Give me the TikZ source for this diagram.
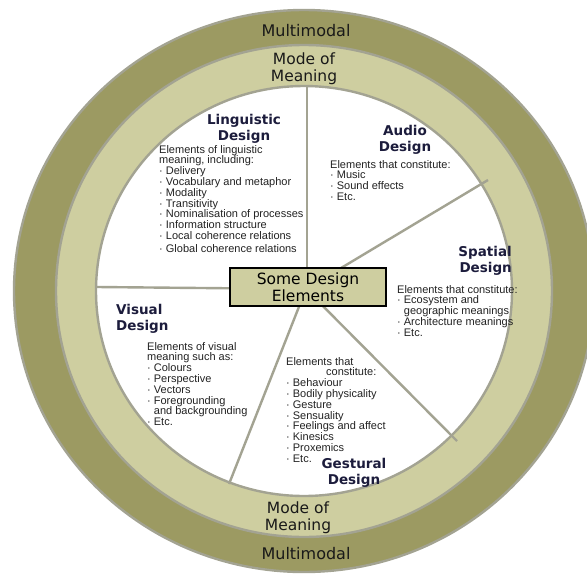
\documentclass[tikz,border=0pt]{standalone}
\usepackage{fontspec}
\setmainfont{Liberation Sans}
\newfontfamily\dvfont{DejaVu Sans}
\definecolor{darkolive}{HTML}{9C9A62}
\definecolor{lightolive}{HTML}{CECEA0}
\definecolor{ringgray}{HTML}{A3A392}
\definecolor{titlenavy}{HTML}{1C1C3C}
\definecolor{bodytext}{HTML}{222222}
\tikzset{
  ringline/.style={draw=ringgray, line width=2.4pt},
  spoke/.style={draw=ringgray, line width=2.4pt},
  ringlabel/.style={font=\dvfont\fontsize{15.5}{17}\selectfont, align=center, inner sep=0pt, text=black!90},
  multilabel/.style={font=\dvfont\fontsize{16}{18}\selectfont, inner sep=0pt, text=black!90},
  designtitle/.style={font=\dvfont\bfseries\fontsize{13.5}{16.5}\selectfont, text=titlenavy, inner sep=0pt},
  bodylist/.style={font=\fontsize{11}{10.8}\selectfont, text=bodytext, align=left, inner sep=0pt, anchor=north west},
  centrebox/.style={draw=black, line width=2.5pt, fill=lightolive, minimum width=156pt, minimum height=38pt, inner sep=0pt, align=center, font=\dvfont\fontsize{15.5}{17}\selectfont}
}
\newcommand{\bul}{\textperiodcentered\ }
\newcommand{\nobul}{\phantom{\textperiodcentered\ }}
\begin{document}
\begin{tikzpicture}[x=1pt,y=-1pt]
\useasboundingbox (0,0) rectangle (587,574);
\begin{scope}
\clip (0,0) rectangle (587,574);
\fill[darkolive] (304,291) ellipse [x radius=290, y radius=281];
\draw[ringline] (304,291) ellipse [x radius=290, y radius=281];
\fill[lightolive] (304,291) ellipse [x radius=248, y radius=246];
\draw[ringline] (304,291) ellipse [x radius=248, y radius=246];
\fill[white] (304,291) ellipse [x radius=208, y radius=205];
\draw[ringline] (304,291) ellipse [x radius=208, y radius=205];
\end{scope}

% spokes
\coordinate (c) at (306,289);
\coordinate (ctop) at (307,289);
\coordinate (etop) at (307,87);
\coordinate (eleft) at (97,287);
\coordinate (eur) at (488,180);
\coordinate (elr) at (457,441);
\coordinate (ell) at (229,484);
\draw[spoke] (ctop) -- (etop);
\draw[spoke] (c) -- (eleft);
\draw[spoke] (c) -- (eur);
\draw[spoke] (c) -- (elr);
\draw[spoke] (c) -- (ell);

% centre box
\node[centrebox] (box) at (308,287) {Some Design\\Elements};

% ring labels
\node[multilabel] (mtop) at (306,31) {Multimodal};
\node[multilabel] (mbot) at (306,554) {Multimodal};
\node[ringlabel] (mmtop) at (304,69) {Mode of\\Meaning};
\node[ringlabel] (mmbot) at (298,518) {Mode of\\Meaning};

% titles
\node[designtitle, align=center] (lingt) at (244,129) {Linguistic\\Design};
\node[designtitle, align=center] (audiot) at (405,140) {Audio\\Design};
\node[designtitle, align=right, anchor=east] (spatt) at (512,261) {Spatial\\Design};
\node[designtitle, align=left, anchor=west] (vist) at (116,319) {Visual\\Design};
\node[designtitle, align=center] (gest) at (354,473) {Gestural\\Design};

% bodies
\node[bodylist] (lingb) at (159,145) {Elements of linguistic\\meaning, including:\\
\bul Delivery\\ \bul Vocabulary and metaphor\\ \bul Modality\\ \bul Transitivity\\
\bul Nominalisation of processes\\ \bul Information structure\\ \bul Local coherence relations\\[2pt]
\bul Global coherence relations};
\node[bodylist] (audiob) at (330,160) {Elements that constitute:\\ \bul Music\\ \bul Sound effects\\ \bul Etc.};
\node[bodylist] (spatb) at (397,285) {Elements that constitute:\\ \bul Ecosystem and\\ \nobul geographic meanings\\ \bul Architecture meanings\\ \bul Etc.};
\node[bodylist] (visb) at (147,342) {Elements of visual\\meaning such as:\\ \bul Colours\\ \bul Perspective\\ \bul Vectors\\ \bul Foregrounding\\ \nobul and backgrounding\\ \bul Etc.};
\node[bodylist] (gesb) at (286,357) {Elements that\\ \hspace*{40pt}constitute:\\ \bul Behaviour\\ \bul Bodily physicality\\ \bul Gesture\\ \bul Sensuality\\ \bul Feelings and affect\\ \bul Kinesics\\ \bul Proxemics\\ \bul Etc.};
\end{tikzpicture}
\end{document}
